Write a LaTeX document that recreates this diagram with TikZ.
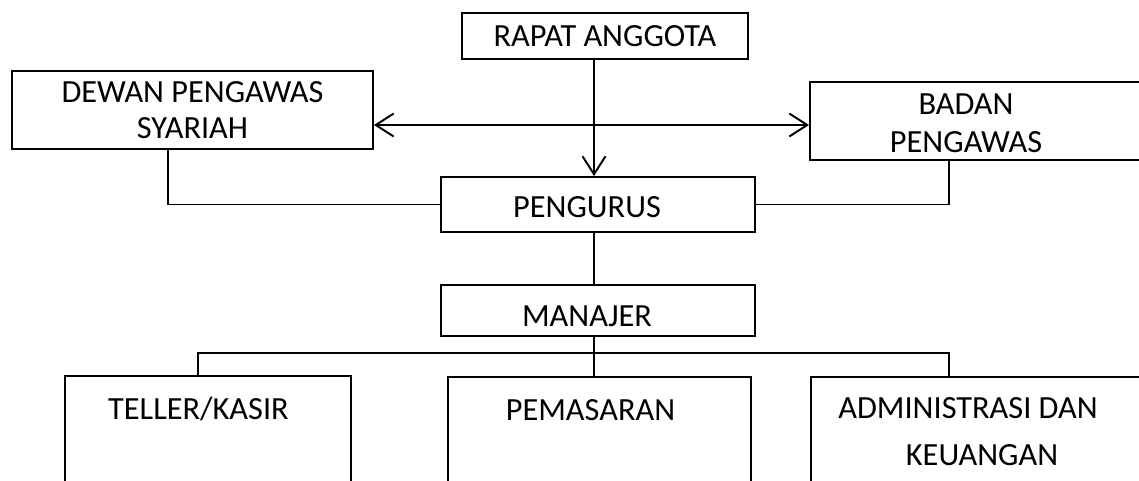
\documentclass[tikz,border=0pt]{standalone}
\usepackage{fontspec}
\setmainfont{Carlito}
\usetikzlibrary{positioning,arrows.meta,calc}

\begin{document}
\begin{tikzpicture}[
  x=0.02cm, y=-0.02cm,
  font=\fontsize{18.4}{20.8}\selectfont,
  box/.style={draw, line width=1.1pt, inner sep=0pt, align=center},
  txt/.style={inner sep=0pt, align=center},
  lin/.style={line width=1.1pt},
  barb/.tip={Straight Barb[length=3.6mm, width=4.6mm, line width=1.1pt]},
  arr/.style={lin, -barb},
  arr2/.style={lin, barb-barb}
]
\useasboundingbox (0,0) rectangle (1139,480);
\clip (0,0) rectangle (1139,480);

%% ===== atas =====
\node[box, minimum width=5.72cm, minimum height=0.92cm] (rapat) at (605,36) {RAPAT ANGGOTA};
\node[box, minimum width=7.22cm, minimum height=1.56cm] (dewan) at (192.5,110) {DEWAN PENGAWAS\\SYARIAH};
\node[box, minimum width=7.8cm, minimum height=1.56cm] (badan) at (1005,121) {};
\node[txt, font=\fontsize{18.4}{21.6}\selectfont] (badanT) at (966,123) {BADAN\\PENGAWAS};

\node[box, minimum width=6.28cm, minimum height=1.1cm] (pengurus) at (598,204.5) {};
\node[txt] (pengurusT) at (587,207.5) {PENGURUS};
\node[box, minimum width=6.28cm, minimum height=1.02cm] (manajer) at (598,310.5) {};
\node[txt] (manajerT) at (587,316.5) {MANAJER};

%% ===== bawah =====
\node[box, minimum width=5.72cm, minimum height=2.88cm] (teller) at (208,448) {};
\node[txt] (tellerT) at (198.5,409) {TELLER/KASIR};
\node[box, minimum width=6.06cm, minimum height=2.86cm] (pemasaran) at (599.5,448.5) {};
\node[txt] (pemasaranT) at (590.5,410) {PEMASARAN};
\node[box, minimum width=7.78cm, minimum height=2.86cm] (admin) at (1005.5,448.5) {};
\node[txt] (adminT1) at (968,408) {ADMINISTRASI DAN};
\node[txt] (adminT2) at (982,455) {KEUANGAN};

%% ===== garis =====
\coordinate (spine) at (594,125);
\coordinate (dl) at (168,205);
\coordinate (br) at (949,205);
\coordinate (busL) at (198,353);
\coordinate (busM) at (594,353);
\coordinate (busR) at (949,353);

\draw[arr] (rapat.south -| spine) -- (pengurus.north -| spine);
\draw[arr2] (dewan.east |- spine) -- (badan.west |- spine);
\draw[lin] (dewan.south -| dl) |- (pengurus.west);
\draw[lin] (badan.south -| br) |- (pengurus.east);

\draw[lin] (pengurus.south -| spine) -- (manajer.north -| spine);
\draw[lin] (manajer.south -| busM) -- (pemasaran.north -| busM);
\draw[lin] (teller.north -| busL) -- (busL) -- (busR) -- (admin.north -| busR);
\end{tikzpicture}
\end{document}
